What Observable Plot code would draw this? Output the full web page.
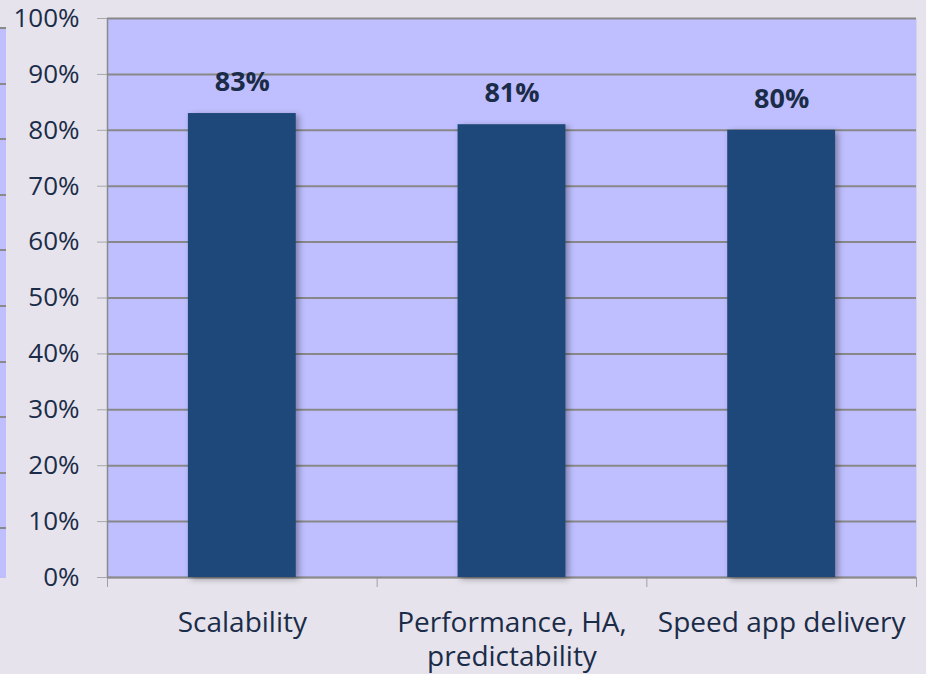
<!DOCTYPE html>
<html>
<head>
<meta charset="utf-8">
<script src="https://cdn.jsdelivr.net/npm/d3@7"></script>
<script src="https://cdn.jsdelivr.net/npm/@observablehq/plot@0.6"></script>
<style>
  html, body { margin: 0; padding: 0; background: #e6e3ec; }
  #wrap { position: relative; width: 926px; height: 674px; overflow: hidden; }
  #strip { position: absolute; left: 0; top: 27px; width: 6px; height: 551px;
    background: repeating-linear-gradient(to bottom, #8a8a8a 0px, #8a8a8a 2px, #bfbfff 2px, #bfbfff 55.6px); }
  #chart svg g[aria-label="rect"] rect { filter: drop-shadow(3px 2px 3px rgba(0,0,0,0.35)); }
</style>
</head>
<body>
<div id="wrap">
  <div id="strip"></div>
  <div id="chart"></div>
</div>
<script>
const categories = ["Scalability", "Performance, HA,\npredictability", "Speed app delivery"];
const values = [0.83, 0.81, 0.80];
const valueLabels = ["83%", "81%", "80%"];
const yTicks = [0, 0.1, 0.2, 0.3, 0.4, 0.5, 0.6, 0.7, 0.8, 0.9, 1.0];

const data = categories.map((c, i) => ({category: c, index: i, value: values[i], label: valueLabels[i]}));
const boundaries = d3.range(categories.length + 1);

const font = "'Open Sans', sans-serif";
const textColor = "#1b2c48";

const chart = Plot.plot({
  width: 926,
  height: 674,
  marginLeft: 107,
  marginRight: 10,
  marginTop: 18,
  marginBottom: 97,
  style: {background: "transparent", fontFamily: font, overflow: "visible"},
  x: {domain: [0, categories.length], axis: null},
  y: {domain: [0, 1], axis: null},
  marks: [
    Plot.frame({fill: "#bfbfff", stroke: null}),
    Plot.ruleY(yTicks, {stroke: "#888888", strokeWidth: 2}),
    Plot.axisY(yTicks, {
      label: null, tickSize: 10, tickPadding: 18, stroke: "#a8a8a8",
      tickFormat: d3.format(".0%"), fill: textColor, fontSize: 26, fontFamily: font
    }),
    Plot.axisX(boundaries, {label: null, tickSize: 10, stroke: "#a0a0a0", tickFormat: () => ""}),
    Plot.ruleX([0], {stroke: "#8a8a8a", strokeWidth: 1.5}),
    Plot.ruleY([0], {stroke: "#8a8a8a", strokeWidth: 1.5}),
    Plot.rectY(data, {x1: d => d.index + 0.3, x2: d => d.index + 0.7, y: "value", fill: "#1f487a"}),
    Plot.text(data, {
      x: d => d.index + 0.5, y: "value", text: "label", dy: -31,
      fontSize: 27, fontWeight: "bold", fill: textColor, fontFamily: font, lineAnchor: "middle"
    }),
    Plot.text(data, {
      x: d => d.index + 0.5, y: 0, text: "category", dy: 30, lineAnchor: "top", lineHeight: 1.22,
      fontSize: 28, fill: textColor, fontFamily: font
    })
  ]
});
document.getElementById("chart").appendChild(chart);
</script>
</body>
</html>
